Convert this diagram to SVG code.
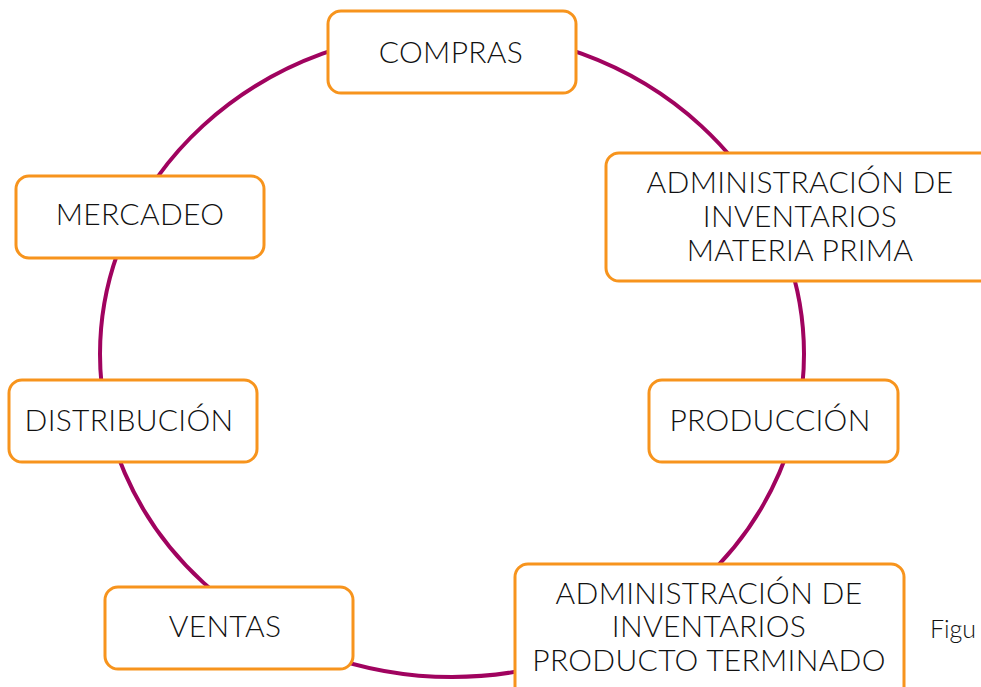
<svg xmlns="http://www.w3.org/2000/svg" width="981" height="687" viewBox="0 0 981 687">
<style>
.box{fill:#fff;stroke:#F7941D;stroke-width:3}
.t{font-family:Lato,"Noto Sans","Liberation Sans",sans-serif;font-weight:300;font-size:30px;letter-spacing:0.3px;fill:#111;text-anchor:middle}
.ring{fill:none;stroke:#A0035F;stroke-width:4}
</style>
<rect width="981" height="687" fill="#fff"/>
<g id="connectors"><ellipse class="ring" cx="452" cy="354" rx="352" ry="323"/></g>
<g id="compras"><rect class="box" x="328" y="11" width="248" height="82" rx="13"/><text class="t" x="451" y="63">COMPRAS</text></g>
<g id="admin-mp"><rect class="box" x="606" y="153" width="395" height="128" rx="13"/><text class="t" x="800" y="193">ADMINISTRACIÓN DE</text><text class="t" x="800" y="227">INVENTARIOS</text><text class="t" x="800" y="261">MATERIA PRIMA</text></g>
<g id="produccion"><rect class="box" x="649" y="380" width="249" height="82" rx="13"/><text class="t" x="770" y="431">PRODUCCIÓN</text></g>
<g id="admin-pt"><rect class="box" x="515" y="564" width="389" height="140" rx="13"/><text class="t" x="709" y="604">ADMINISTRACIÓN DE</text><text class="t" x="709" y="637">INVENTARIOS</text><text class="t" x="709" y="671">PRODUCTO TERMINADO</text></g>
<g id="ventas"><rect class="box" x="105" y="587" width="248" height="82" rx="13"/><text class="t" x="225" y="637">VENTAS</text></g>
<g id="distribucion"><rect class="box" x="9" y="380" width="248" height="82" rx="13"/><text class="t" x="129" y="431">DISTRIBUCIÓN</text></g>
<g id="mercadeo"><rect class="box" x="16" y="176" width="248" height="82" rx="13"/><text class="t" x="140" y="225">MERCADEO</text></g>
<text class="t" x="930" y="638" style="text-anchor:start;font-size:25px;letter-spacing:0">Figu</text>
</svg>
